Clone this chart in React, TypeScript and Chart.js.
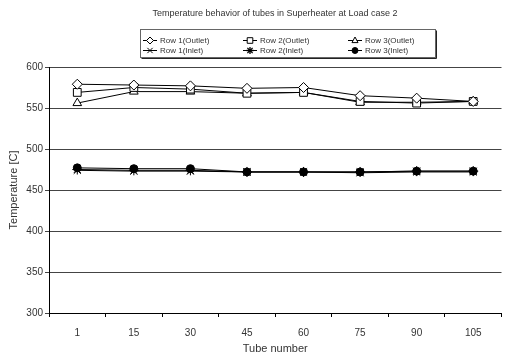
import React, { useEffect, useRef } from "react";
import { Chart, registerables } from "chart.js";

Chart.register(...registerables);

const tubeNumbers = ["1", "15", "30", "45", "60", "75", "90", "105"];
const row1Outlet = [579, 578, 577, 574, 575, 565, 562, 558];
const row2Outlet = [569, 575, 573, 568, 569, 558, 556, 558];
const row3Outlet = [556, 570, 570, 568, 569, 557, 557, 558];
const row1Inlet = [474, 473, 473, 472, 472, 471, 472, 472];
const row2Inlet = [475, 474, 474, 472, 472, 472, 473, 473];
const row3Inlet = [477, 476, 476, 472, 472, 472, 473, 473];
const yTicks = [300, 350, 400, 450, 500, 550, 600];

const FONT = "'Liberation Sans', Arial, sans-serif";
const TEXT = "#333";

type Marker = "rectRot" | "rect" | "triangle" | "crossRot" | "star" | "circle";

const seriesMeta: { label: string; data: number[]; style: Marker; fill: string }[] = [
  { label: "Row 1(Outlet)", data: row1Outlet, style: "rectRot", fill: "#fff" },
  { label: "Row 2(Outlet)", data: row2Outlet, style: "rect", fill: "#fff" },
  { label: "Row 3(Outlet)", data: row3Outlet, style: "triangle", fill: "#fff" },
  { label: "Row 1(Inlet)", data: row1Inlet, style: "crossRot", fill: "#000" },
  { label: "Row 2(Inlet)", data: row2Inlet, style: "star", fill: "#000" },
  { label: "Row 3(Inlet)", data: row3Inlet, style: "circle", fill: "#000" },
];

function drawMarker(ctx: CanvasRenderingContext2D, style: Marker, x: number, y: number, r: number, fill: string) {
  ctx.save();
  ctx.strokeStyle = "#000";
  ctx.fillStyle = fill;
  ctx.lineWidth = 1;
  ctx.beginPath();
  if (style === "rectRot") {
    ctx.moveTo(x, y - r);
    ctx.lineTo(x + r, y);
    ctx.lineTo(x, y + r);
    ctx.lineTo(x - r, y);
    ctx.closePath();
    ctx.fill();
    ctx.stroke();
  } else if (style === "rect") {
    const s = r * 0.8;
    ctx.rect(x - s, y - s, 2 * s, 2 * s);
    ctx.fill();
    ctx.stroke();
  } else if (style === "triangle") {
    ctx.moveTo(x, y - r);
    ctx.lineTo(x + r * 0.87, y + r * 0.6);
    ctx.lineTo(x - r * 0.87, y + r * 0.6);
    ctx.closePath();
    ctx.fill();
    ctx.stroke();
  } else if (style === "crossRot") {
    const s = r * 0.75;
    ctx.moveTo(x - s, y - s);
    ctx.lineTo(x + s, y + s);
    ctx.moveTo(x + s, y - s);
    ctx.lineTo(x - s, y + s);
    ctx.stroke();
  } else if (style === "star") {
    const s = r * 0.75;
    ctx.moveTo(x - s, y - s);
    ctx.lineTo(x + s, y + s);
    ctx.moveTo(x + s, y - s);
    ctx.lineTo(x - s, y + s);
    ctx.moveTo(x, y - r);
    ctx.lineTo(x, y + r);
    ctx.moveTo(x - r, y);
    ctx.lineTo(x + r, y);
    ctx.lineWidth = 1.3;
    ctx.stroke();
  } else {
    ctx.arc(x, y, r * 0.85, 0, Math.PI * 2);
    ctx.fill();
    ctx.stroke();
  }
  ctx.restore();
}

const headerPlugin = {
  id: "header",
  afterDraw(chart: Chart) {
    const ctx = chart.ctx;
    ctx.save();
    ctx.fillStyle = TEXT;
    ctx.font = `9px ${FONT}`;
    ctx.textAlign = "center";
    ctx.textBaseline = "middle";
    ctx.fillText("Temperature behavior of tubes in Superheater at Load case 2", 275, 14);

    // legend box
    const bx = 140.5, by = 29.5, bw = 295, bh = 28;
    ctx.fillStyle = "#fff";
    ctx.fillRect(bx, by, bw, bh);
    ctx.strokeStyle = "#666";
    ctx.lineWidth = 1;
    ctx.strokeRect(bx, by, bw, bh);
    ctx.strokeStyle = "#222";
    ctx.beginPath();
    ctx.moveTo(bx + bw + 1, by + 1);
    ctx.lineTo(bx + bw + 1, by + bh + 1);
    ctx.lineTo(bx + 1, by + bh + 1);
    ctx.stroke();

    const cols = [143, 243, 348];
    const rows = [40, 50];
    ctx.textAlign = "left";
    seriesMeta.forEach((s, i) => {
      const cx = cols[i % 3];
      const cy = rows[Math.floor(i / 3)];
      ctx.strokeStyle = "#000";
      ctx.lineWidth = 1;
      ctx.beginPath();
      ctx.moveTo(cx, cy + 0.5);
      ctx.lineTo(cx + 14, cy + 0.5);
      ctx.stroke();
      drawMarker(ctx, s.style, cx + 7, cy + 0.5, 3.5, s.fill);
      ctx.fillStyle = TEXT;
      ctx.font = `8px ${FONT}`;
      ctx.fillText(s.label, cx + 17, cy + 0.5);
    });
    ctx.restore();
  },
};

export default function App() {
  const ref = useRef<HTMLCanvasElement | null>(null);
  useEffect(() => {
    if (!ref.current) return;
    const chart = new Chart(ref.current, {
      type: "line",
      data: {
        labels: tubeNumbers,
        datasets: seriesMeta.map((s) => ({
          label: s.label,
          data: s.data,
          borderColor: "#000",
          borderWidth: 1,
          backgroundColor: s.fill,
          pointStyle: s.style,
          pointRadius: s.style === "rect" ? 5.5 : s.style === "circle" ? 4 : 5,
          pointBorderColor: "#000",
          pointBackgroundColor: s.fill,
          pointBorderWidth: 1,
          tension: 0,
          fill: false,
        })),
      },
      options: {
        animation: false,
        responsive: false,
        maintainAspectRatio: false,
        layout: { padding: { top: 67, left: 0, right: 1, bottom: 0 } },
        plugins: {
          legend: { display: false },
          title: { display: false },
          tooltip: { enabled: false },
        },
        scales: {
          x: {
            type: "category",
            offset: true,
            grid: { offset: true, drawOnChartArea: false, color: "#000", tickLength: 4 },
            border: { color: "#000", width: 1 },
            ticks: { color: TEXT, font: { family: FONT, size: 10 }, padding: 10, maxRotation: 0 },
            title: {
              display: true,
              text: "Tube number",
              color: TEXT,
              font: { family: FONT, size: 11 },
              padding: { top: 1, bottom: 0 },
            },
            afterFit(scale: any) {
              scale.height = 43;
            },
          },
          y: {
            min: 300,
            max: 600,
            afterBuildTicks(scale: any) {
              scale.ticks = yTicks.map((v) => ({ value: v }));
            },
            grid: { color: "#444", tickLength: 4 },
            border: { color: "#000", width: 1 },
            ticks: { color: TEXT, font: { family: FONT, size: 10 }, padding: 2 },
            title: {
              display: true,
              text: "Temperature [C]",
              color: TEXT,
              font: { family: FONT, size: 11 },
              padding: { top: 7, bottom: 0 },
            },
            afterFit(scale: any) {
              scale.width = 49;
            },
          },
        },
      },
      plugins: [headerPlugin],
    });
    return () => chart.destroy();
  }, []);
  return (
    <div style={{ position: "absolute", left: 0, top: 0, width: 508, height: 356, background: "#fff" }}>
      <canvas ref={ref} width={508} height={356} style={{ width: 508, height: 356, display: "block" }} />
    </div>
  );
}
